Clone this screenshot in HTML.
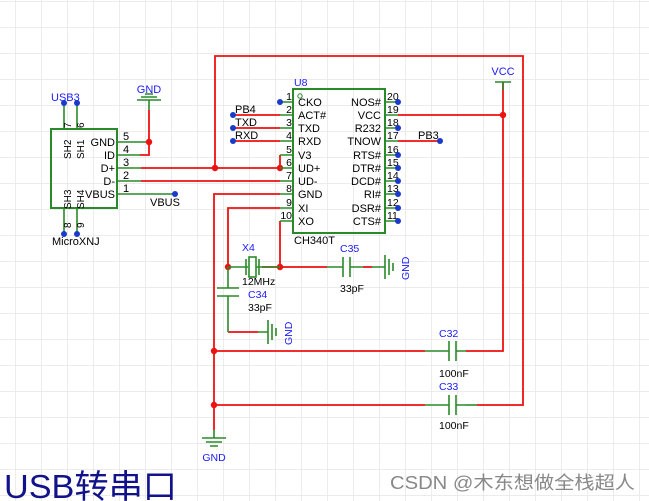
<!DOCTYPE html>
<html><head><meta charset="utf-8"><style>
html,body{margin:0;padding:0;background:#fff;}
svg{display:block;}
text{font-family:"Liberation Sans","Noto Sans CJK SC",sans-serif;}
</style></head><body>
<svg width="649" height="501" viewBox="0 0 649 501" xmlns="http://www.w3.org/2000/svg">
<defs>
<pattern id="g" x="15" y="1" width="26" height="26" patternUnits="userSpaceOnUse">
<path d="M0 0H26M0 0V26" stroke="#e6e6e6" stroke-width="1.5" fill="none"/>
</pattern>
</defs>
<rect width="649" height="501" fill="url(#g)"/>

<!-- USB connector -->
<g stroke="#2a8a2a" stroke-width="1.6" fill="none">
<rect x="51" y="129" width="66" height="79" stroke-width="2"/>
<path d="M64 103V129M77 103V129M64 208V234M77 208V234"/>
<path d="M117 142H149M117 155H140M117 168H141M117 181H141M117 194H175"/>
</g>
<g fill="#000" font-size="11">
<text x="115" y="146" text-anchor="end">GND</text>
<text x="115" y="159" text-anchor="end">ID</text>
<text x="115" y="172" text-anchor="end">D+</text>
<text x="115" y="185" text-anchor="end">D-</text>
<text x="115" y="198" text-anchor="end">VBUS</text>
<text x="123" y="140">5</text><text x="123" y="153">4</text><text x="123" y="166">3</text><text x="123" y="179">2</text><text x="123" y="192">1</text>
<text transform="translate(71,159) rotate(-90)" font-size="10">SH2</text>
<text transform="translate(84,159) rotate(-90)" font-size="10">SH1</text>
<text transform="translate(71,209) rotate(-90)" font-size="10">SH3</text>
<text transform="translate(84,209) rotate(-90)" font-size="10">SH4</text>
<text transform="translate(71,128) rotate(-90)" font-size="10">7</text>
<text transform="translate(84,128) rotate(-90)" font-size="10">6</text>
<text transform="translate(71,228) rotate(-90)" font-size="10">8</text>
<text transform="translate(84,228) rotate(-90)" font-size="10">9</text>
<text x="150" y="206">VBUS</text>
<text x="52" y="245">MicroXNJ</text>
</g>
<text x="51" y="101" fill="#1a1aff" font-size="11">USB3</text>
<g fill="#1a3acc"><circle cx="64" cy="103" r="3"/><circle cx="77" cy="103" r="3"/><circle cx="64" cy="234" r="3"/><circle cx="77" cy="234" r="3"/><circle cx="175" cy="194" r="3"/></g>

<!-- GND top -->
<g stroke="#2a8a2a" stroke-width="1.6"><path d="M137 100H161M141 97H157M145 94H153M149 100V110"/></g>
<text x="149" y="93" fill="#1a1aff" font-size="11" text-anchor="middle">GND</text>

<!-- red wires -->
<g stroke="#ee1111" stroke-width="1.8" fill="none">
<path d="M149 110V155H140"/>
<path d="M141 168H280M141 181H280"/>
<path d="M215 168V56H523V405H477"/>
<path d="M233 115H280M233 128H280M233 141H280"/>
<path d="M280 155V168"/>
<path d="M280 194H214V430"/>
<path d="M280 208H228V267"/>
<path d="M280 221V267H327"/>
<path d="M262 267H280"/>
<path d="M228 332H258"/>
<path d="M363 267H372"/>
<path d="M214 351H425M466 351H503V115H398"/>
<path d="M214 405H425"/>
<path d="M398 141H440"/>
<path d="M503 115V82"/>
</g>
<g fill="#ee1111"><circle cx="149" cy="142" r="3.2"/><circle cx="215" cy="168" r="3.2"/><circle cx="280" cy="168" r="3.2"/><circle cx="228" cy="267" r="3.2"/><circle cx="280" cy="267" r="3.2"/><circle cx="214" cy="351" r="3.2"/><circle cx="214" cy="405" r="3.2"/><circle cx="503" cy="115" r="3.2"/></g>

<!-- U8 -->
<g stroke="#2a8a2a" stroke-width="1.6" fill="none">
<rect x="293" y="89" width="92" height="144" stroke-width="2"/>
<circle cx="300" cy="96" r="2.2" stroke-width="1"/>
<path d="M280 102H293M280 115H293M280 128H293M280 141H293M280 155H293M280 168H293M280 181H293M280 194H293M280 208H293M280 221H293"/>
<path d="M385 102H398M385 115H398M385 128H398M385 141H398M385 155H398M385 168H398M385 181H398M385 194H398M385 208H398M385 221H398"/>
</g>
<g font-size="11" fill="#000">
<text x="298" y="106">CKO</text><text x="298" y="119">ACT#</text><text x="298" y="132">TXD</text><text x="298" y="145">RXD</text><text x="298" y="159">V3</text><text x="298" y="172">UD+</text><text x="298" y="185">UD-</text><text x="298" y="198">GND</text><text x="298" y="212">XI</text><text x="298" y="225">XO</text>
<g text-anchor="end"><text x="381" y="106">NOS#</text><text x="381" y="119">VCC</text><text x="381" y="132">R232</text><text x="381" y="145">TNOW</text><text x="381" y="159">RTS#</text><text x="381" y="172">DTR#</text><text x="381" y="185">DCD#</text><text x="381" y="198">RI#</text><text x="381" y="212">DSR#</text><text x="381" y="225">CTS#</text></g>
<g text-anchor="end" font-size="10.5"><text x="292" y="100">1</text><text x="292" y="113">2</text><text x="292" y="126">3</text><text x="292" y="139">4</text><text x="292" y="153">5</text><text x="292" y="166">6</text><text x="292" y="179">7</text><text x="292" y="192">8</text><text x="292" y="206">9</text><text x="292" y="219">10</text></g>
<g font-size="10.5"><text x="387" y="100">20</text><text x="387" y="113">19</text><text x="387" y="126">18</text><text x="387" y="139">17</text><text x="387" y="153">16</text><text x="387" y="166">15</text><text x="387" y="179">14</text><text x="387" y="192">13</text><text x="387" y="206">12</text><text x="387" y="219">11</text></g>
<text x="294" y="244">CH340T</text>
<text x="235" y="113">PB4</text><text x="235" y="126">TXD</text><text x="235" y="139">RXD</text>
<text x="418" y="139">PB3</text>
</g>
<text x="294" y="86" fill="#1a1aff" font-size="10.5">U8</text>
<g fill="#1a3acc"><circle cx="280" cy="102" r="3"/><circle cx="233" cy="115" r="3"/><circle cx="233" cy="128" r="3"/><circle cx="233" cy="141" r="3"/><circle cx="440" cy="141" r="3"/>
<circle cx="398" cy="102" r="3"/><circle cx="398" cy="128" r="3"/><circle cx="398" cy="155" r="3"/><circle cx="398" cy="168" r="3"/><circle cx="398" cy="181" r="3"/><circle cx="398" cy="194" r="3"/><circle cx="398" cy="208" r="3"/><circle cx="398" cy="221" r="3"/></g>

<!-- VCC -->
<g stroke="#2a8a2a" stroke-width="1.6"><path d="M495 82H511M503 82V90"/></g>
<text x="503" y="75" fill="#1a1aff" font-size="11" text-anchor="middle">VCC</text>

<g stroke="#2a8a2a" stroke-width="1.6" fill="none">
<path d="M228 267H248M256 267H280"/>
<path d="M246 259V275M259 259V275"/>
<rect x="249" y="257" width="7" height="20"/>
<path d="M228 267V288M228 296V332"/>
<path d="M217 288H239M217 296H239"/>
<path d="M258 332H268M268 320V344M272 324V340M276 328V336"/>
<path d="M327 267H343M350 267H363M343 257V277M350 257V277"/>
<path d="M372 267H385M385 255V279M389 259V275M393 263V271"/>
<path d="M425 351H449M456 351H466M449 341V361M456 341V361"/>
<path d="M425 405H449M456 405H466M449 395V415M456 395V415"/>
<path d="M466 405H477"/>
<path d="M214 430V438M202 438H226M206 442H222M210 446H218"/>
</g>
<g font-size="10.5">
<text x="242" y="251" fill="#1a1aff">X4</text>
<text x="242" y="285" fill="#000">12MHz</text>
<text x="248" y="298" fill="#1a1aff">C34</text>
<text x="248" y="311" fill="#000">33pF</text>
<text x="340" y="252" fill="#1a1aff">C35</text>
<text x="340" y="292" fill="#000">33pF</text>
<text x="439" y="337" fill="#1a1aff">C32</text>
<text x="439" y="377" fill="#000">100nF</text>
<text x="439" y="390" fill="#1a1aff">C33</text>
<text x="439" y="429" fill="#000">100nF</text>
<text x="214" y="461" fill="#1a1aff" text-anchor="middle">GND</text>
<text transform="translate(292,345) rotate(-90)" fill="#1a1aff">GND</text>
<text transform="translate(409,280) rotate(-90)" fill="#1a1aff">GND</text>
</g>

<text x="4" y="498" fill="#12128a" font-size="33" textLength="173" lengthAdjust="spacingAndGlyphs">USB转串口</text>
<text x="390" y="489" fill="#888" font-size="18" textLength="245" lengthAdjust="spacingAndGlyphs">CSDN @木东想做全栈超人</text>
</svg>
</body></html>
